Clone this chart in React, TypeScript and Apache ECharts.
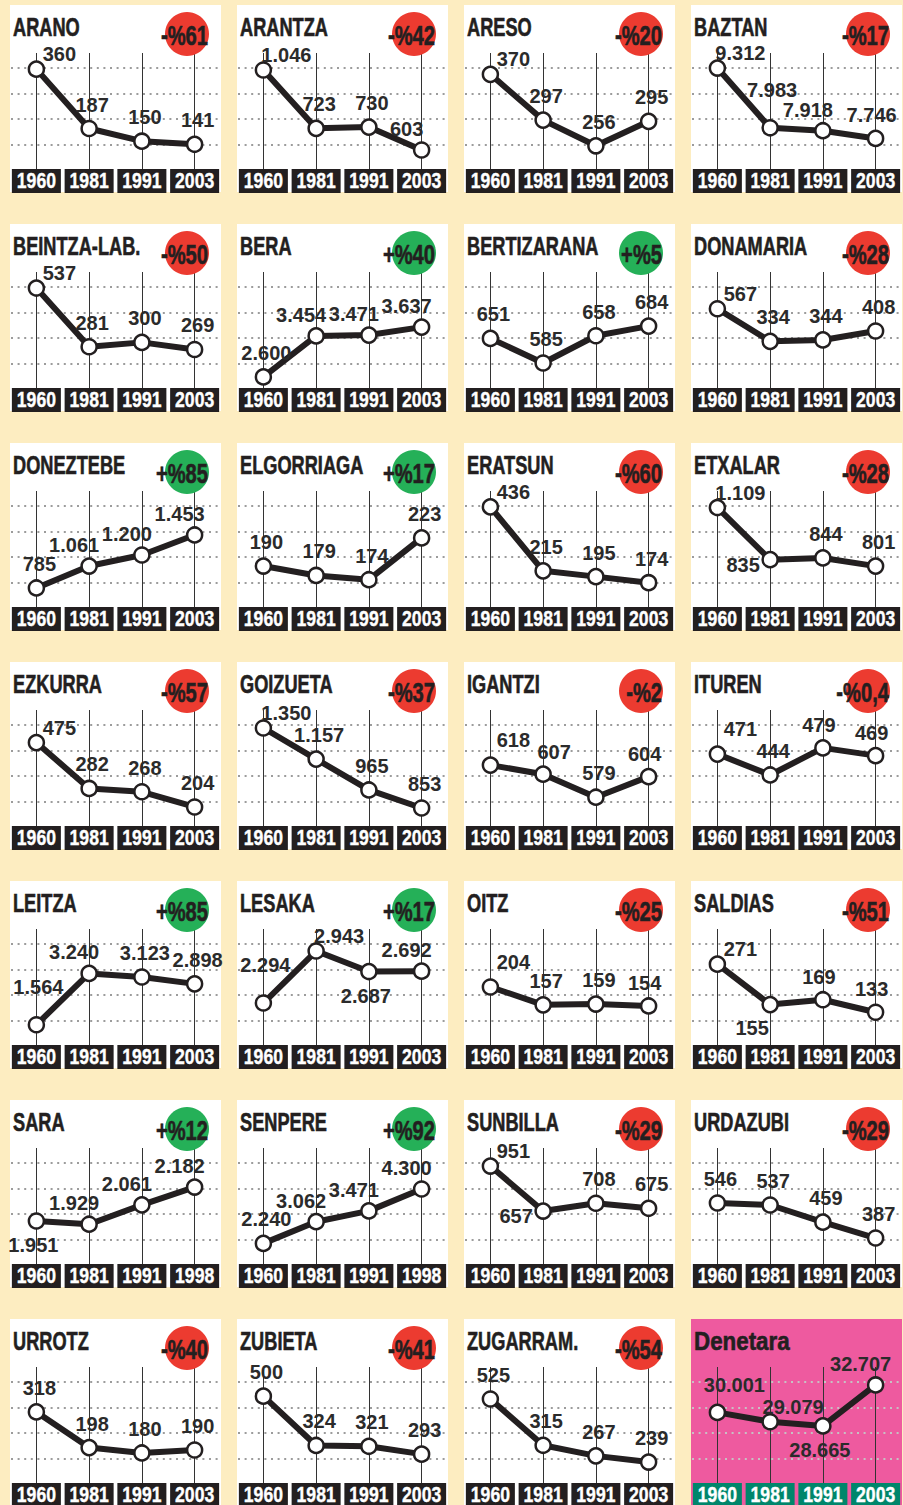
import React, { useEffect, useRef } from "react";
import * as echarts from "echarts";

// ---------- data ----------
const towns = [
  "ARANO", "ARANTZA", "ARESO", "BAZTAN",
  "BEINTZA-LAB.", "BERA", "BERTIZARANA", "DONAMARIA",
  "DONEZTEBE", "ELGORRIAGA", "ERATSUN", "ETXALAR",
  "EZKURRA", "GOIZUETA", "IGANTZI", "ITUREN",
  "LEITZA", "LESAKA", "OITZ", "SALDIAS",
  "SARA", "SENPERE", "SUNBILLA", "URDAZUBI",
  "URROTZ", "ZUBIETA", "ZUGARRAM.", "Denetara",
];

const yearsNavarre = ["1960", "1981", "1991", "2003"];
const yearsLapurdi = ["1960", "1981", "1991", "1998"];
const yearsOf = [
  yearsNavarre, yearsNavarre, yearsNavarre, yearsNavarre,
  yearsNavarre, yearsNavarre, yearsNavarre, yearsNavarre,
  yearsNavarre, yearsNavarre, yearsNavarre, yearsNavarre,
  yearsNavarre, yearsNavarre, yearsNavarre, yearsNavarre,
  yearsNavarre, yearsNavarre, yearsNavarre, yearsNavarre,
  yearsLapurdi, yearsLapurdi, yearsNavarre, yearsNavarre,
  yearsNavarre, yearsNavarre, yearsNavarre, yearsNavarre,
];

const population = [
  [360, 187, 150, 141],
  [1046, 723, 730, 603],
  [370, 297, 256, 295],
  [9312, 7983, 7918, 7746],
  [537, 281, 300, 269],
  [2600, 3454, 3471, 3637],
  [651, 585, 658, 684],
  [567, 334, 344, 408],
  [785, 1061, 1200, 1453],
  [190, 179, 174, 223],
  [436, 215, 195, 174],
  [1109, 835, 844, 801],
  [475, 282, 268, 204],
  [1350, 1157, 965, 853],
  [618, 607, 579, 604],
  [471, 444, 479, 469],
  [1564, 3240, 3123, 2898],
  [2294, 2943, 2687, 2692],
  [204, 157, 159, 154],
  [271, 155, 169, 133],
  [1951, 1929, 2061, 2182],
  [2240, 3062, 3471, 4300],
  [951, 657, 708, 675],
  [546, 537, 459, 387],
  [318, 198, 180, 190],
  [500, 324, 321, 293],
  [525, 315, 267, 239],
  [30001, 29079, 28665, 32707],
];

const change = [
  "-%61", "-%42", "-%20", "-%17",
  "-%50", "+%40", "+%5", "-%28",
  "+%85", "+%17", "-%60", "-%28",
  "-%57", "-%37", "-%2", "-%0,4",
  "+%85", "+%17", "-%25", "-%51",
  "+%12", "+%92", "-%29", "-%29",
  "-%40", "-%41", "-%54", "",
];

// each panel has its own (hand-drawn) vertical scale
const scaleMin = [69, 498, 219, 7066, 101, 2369, 518, 0, 545, 142, 90, 586, 124, 741, 544, 378, 903, 1770, 51, 39, 1658, 1460, 311, 269, 79, 190, 144, 23036];
const scaleMax = [407, 1140, 404, 9647, 607, 4785, 829, 830, 2007, 278, 491, 1196, 612, 1462, 685, 528, 4689, 3218, 357, 372, 2448, 5852, 1069, 796, 469, 604, 670, 34477];

// label placement codes
const labelSide = [
  ["tr", "t", "t", "t"],
  ["tr", "t", "t", "tl"],
  ["tr", "t", "t", "t"],
  ["tr", "T", "tl", "t0"],
  ["tr", "t", "t", "t"],
  ["t", "tl", "tl", "tl"],
  ["t", "t", "t", "t"],
  ["tr", "t", "t", "t"],
  ["t", "tl", "tl", "tl"],
  ["t", "t", "t", "t"],
  ["tr", "t", "t", "t"],
  ["tr", "l", "t", "t"],
  ["tr", "t", "t", "t"],
  ["tr", "t", "t", "t"],
  ["TR", "tx", "t", "t0"],
  ["TR", "t", "t0", "t0"],
  ["T", "tl", "t", "t"],
  ["T", "tr", "b", "tl"],
  ["TR", "t", "t", "t0"],
  ["tr", "bl", "t0", "t0"],
  ["b", "tl", "tl", "tl"],
  ["t", "tl", "tl", "tl"],
  ["tr", "l", "t", "t"],
  ["t", "t", "t", "t"],
  ["t", "t", "t", "t"],
  ["t", "t", "t", "t"],
  ["t", "t", "t", "t"],
  ["tR", "tr", "b", "tl"],
];

// ---------- styles ----------
const OFFSETS: Record<string, number[]> = {
  t: [3, -24],
  tx: [11, -22],
  t0: [-4, -23],
  T: [2, -38],
  tr: [23, -15],
  TR: [23, -25],
  tR: [17, -27],
  tl: [-15, -21],
  b: [-3, 24],
  l: [-27, 5],
  bl: [-18, 23],
};
const INK = "#231f20";
const PAGE = "#fdedc1";
const RED = "#ec3b30";
const GREEN = "#25b058";
const PINK = "#ee5a9f";
const TEAL = "#00866b";
const SANS = "'Liberation Sans', Arial, sans-serif";

const PW = 211;
const PH = 187;
const COLSTEP = 227;
const ROWSTEP = 219;
const GRID_TOP = 48;
const GRID_H = 116;
const BOX_W = 49;
const BOX_H = 24;
const DOT_ROWS = [63, 89, 114, 140];

const fmt = (v: number) => String(v).replace(/\B(?=(\d{3})+(?!\d))/g, ".");
const panelOrigin = (i: number) => [10 + (i % 4) * COLSTEP, 5 + Math.floor(i / 4) * ROWSTEP];

function buildGraphics() {
  const graphics: any[] = [];
  towns.forEach((name, i) => {
    const [px, py] = panelOrigin(i);
    const total = i === towns.length - 1;
    graphics.push({
      type: "rect", silent: true, z: 0,
      shape: { x: px, y: py, width: PW, height: PH },
      style: { fill: total ? PINK : "#ffffff" },
    });
    DOT_ROWS.forEach((gy) => {
      graphics.push({
        type: "line", silent: true, z: 1,
        shape: { x1: px + 1, y1: py + gy, x2: px + PW - 2, y2: py + gy },
        style: { stroke: total ? "#c9c0c4" : "#9c9c9c", lineWidth: 2, lineDash: [2, 4.6] },
      });
    });
    graphics.push({
      type: "text", silent: true, z: 20,
      x: px + 3, y: py + 22, scaleX: total ? 0.86 : 0.7,
      style: {
        text: name, fill: INK, fontSize: 26, fontWeight: "bold", fontFamily: SANS,
        align: "left", verticalAlign: "middle", stroke: INK, lineWidth: 0.6,
      },
    });
    if (change[i]) {
      const up = change[i].startsWith("+");
      graphics.push({
        type: "circle", silent: true, z: 18,
        shape: { cx: px + 177, cy: py + 29, r: 22 },
        style: { fill: up ? GREEN : RED },
      });
      graphics.push({
        type: "text", silent: true, z: 20,
        x: px + 198, y: py + 30, scaleX: 0.72,
        style: {
          text: change[i], fill: INK, fontSize: 28, fontWeight: "bold", fontFamily: SANS,
          align: "right", verticalAlign: "middle", stroke: INK, lineWidth: 0.6,
        },
      });
    }
  });
  return graphics;
}

function buildOption() {
  const grids: any[] = [];
  const xAxes: any[] = [];
  const yAxes: any[] = [];
  const series: any[] = [];

  towns.forEach((_, i) => {
    const [px, py] = panelOrigin(i);
    grids.push({ left: px, top: py + GRID_TOP, width: PW, height: GRID_H, containLabel: false });
    xAxes.push({
      type: "category", gridIndex: i, data: yearsOf[i], boundaryGap: true,
      axisLine: { show: false }, axisTick: { show: false }, splitLine: { show: false },
      axisLabel: { show: false },
    });
    yAxes.push({
      type: "value", gridIndex: i, min: scaleMin[i], max: scaleMax[i], show: false,
      splitLine: { show: false },
    });
    series.push({
      type: "line", xAxisIndex: i, yAxisIndex: i, z: 3, clip: false, silent: true,
      data: population[i].map((v, k) => ({ value: v, label: { offset: OFFSETS[labelSide[i][k]] } })),
      lineStyle: { color: INK, width: 6 },
      symbol: "circle", symbolSize: 15, showAllSymbol: true,
      itemStyle: { color: "#ffffff", borderColor: INK, borderWidth: 2.5 },
      label: {
        show: true, position: "inside", formatter: (p: any) => fmt(p.value),
        color: "#2b2b2b", fontSize: 20, fontWeight: "bold", fontFamily: SANS,
        align: "center", verticalAlign: "middle",
      },
      emphasis: { disabled: true },
      markLine: {
        silent: true, symbol: "none", z: 1, animation: false,
        label: { show: false },
        lineStyle: { color: "#333333", width: 1, type: "solid" },
        emphasis: { disabled: true },
        data: yearsOf[i].map((y) => ({ xAxis: y })),
      },
    });
  });

  return {
    animation: false,
    backgroundColor: PAGE,
    grid: grids,
    xAxis: xAxes,
    yAxis: yAxes,
    series,
    graphic: { elements: buildGraphics() },
  };
}

export default function App() {
  const ref = useRef<HTMLDivElement>(null);
  useEffect(() => {
    if (!ref.current) return;
    const chart = echarts.init(ref.current, undefined, { renderer: "svg", width: 903, height: 1505 });
    chart.setOption(buildOption() as any);

    // year tags placed on the category positions of each panel's x axis
    const graphics = buildGraphics();
    towns.forEach((_, i) => {
      const [, py] = panelOrigin(i);
      const total = i === towns.length - 1;
      yearsOf[i].forEach((year) => {
        const cx = chart.convertToPixel({ xAxisIndex: i } as any, year) as unknown as number;
        graphics.push({
          type: "rect", silent: true, z: 15,
          shape: { x: cx - BOX_W / 2, y: py + GRID_TOP + GRID_H, width: BOX_W, height: BOX_H },
          style: { fill: total ? TEAL : INK },
        });
        graphics.push({
          type: "text", silent: true, z: 16,
          x: cx, y: py + GRID_TOP + GRID_H + BOX_H / 2 - 1, scaleX: 0.8,
          style: {
            text: year, fill: "#ffffff", fontSize: 22, fontWeight: "bold", fontFamily: SANS,
            align: "center", verticalAlign: "middle", stroke: "#ffffff", lineWidth: 0.4,
          },
        });
      });
    });
    chart.setOption({ graphic: { elements: graphics } } as any);
    return () => chart.dispose();
  }, []);
  return (
    <div
      ref={ref}
      style={{ position: "absolute", left: 0, top: 0, width: 903, height: 1505, background: PAGE }}
    />
  );
}
